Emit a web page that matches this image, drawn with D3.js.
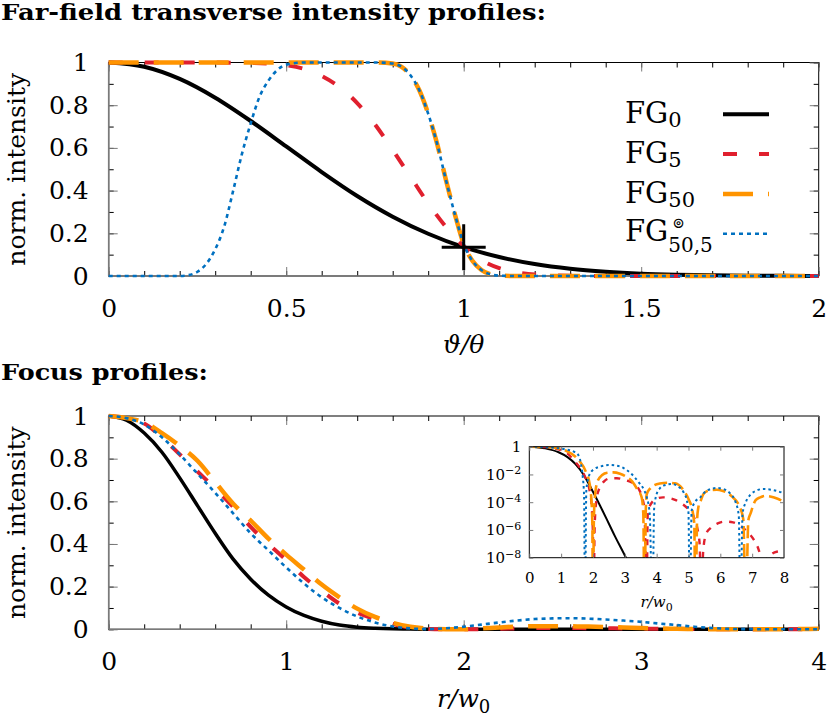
<!DOCTYPE html>
<html>
<head>
<meta charset="utf-8">
<script src="https://cdn.jsdelivr.net/npm/d3@7"></script>
<style>
  body { margin: 0; background: #fff; }
  svg text { font-family: "DejaVu Serif", serif; fill: #000; }
</style>
</head>
<body>
<div class="viz"></div>
<script>
/* values */

// far field, [theta / theta0, normalised intensity]
const farFG0 = [[0,1],[0.1,0.98],[0.2,0.923],[0.3,0.835],[0.4,0.726],[0.5,0.607],[0.6,0.487],[0.7,0.375],
  [0.8,0.278],[0.9,0.198],[1.0,0.135],[1.1,0.089],[1.2,0.056],[1.3,0.034],[1.4,0.02],[1.5,0.011],
  [1.6,0.006],[1.7,0.003],[1.8,0.0015],[1.9,0.0007],[2.0,0.0003]];
const farFG5 = [[0,1],[0.2,1],[0.4,0.998],[0.45,0.995],[0.5,0.987],[0.55,0.97],[0.6,0.937],[0.65,0.885],
  [0.7,0.81],[0.75,0.71],[0.8,0.59],[0.85,0.465],[0.9,0.34],[0.95,0.23],[1.0,0.14],[1.05,0.075],
  [1.1,0.037],[1.15,0.017],[1.2,0.007],[1.3,0.001],[1.4,0],[2.0,0]];
const farFG50 = [[0,1],[0.75,1],[0.8,0.995],[0.825,0.98],[0.85,0.94],[0.875,0.87],[0.9,0.76],[0.925,0.62],
  [0.95,0.45],[0.975,0.29],[1.0,0.15],[1.025,0.07],[1.05,0.028],[1.075,0.008],[1.1,0.002],[1.15,0],[2.0,0]];
const farFG505 = [[0,0],[0.2,0],[0.225,0.004],[0.25,0.02],[0.275,0.057],[0.3,0.125],[0.325,0.23],[0.35,0.395],
  [0.375,0.57],[0.4,0.715],[0.425,0.84],[0.45,0.915],[0.475,0.965],[0.5,0.99],[0.55,1],[0.75,1],
  [0.8,0.995],[0.825,0.98],[0.85,0.94],[0.875,0.87],[0.9,0.76],[0.925,0.62],[0.95,0.45],[0.975,0.29],
  [1.0,0.15],[1.025,0.07],[1.05,0.028],[1.075,0.008],[1.1,0.002],[1.15,0],[2.0,0]];
const crossPoint = [1.0, 0.135];

// focus, sampled at r / w0
const focusR = [0,0.1,0.2,0.3,0.4,0.5,0.6,0.7,0.8,0.9,1.0,1.1,1.2,1.3,1.4,1.5,1.6,1.7,1.8,1.9,2.0,
  2.1,2.2,2.3,2.4,2.5,2.6,2.7,2.8,2.9,3.0,3.1,3.2,3.3,3.4,3.5,3.6,3.7,3.8,3.9,4.0];
const focusFG0 = [1,0.98,0.92,0.83,0.71,0.58,0.45,0.33,0.235,0.16,0.105,0.065,0.038,0.02,0.01,0.005,0.0022,0.001,
  0.0004,0,0,0,0,0,0,0,0,0,0,0,0,0,0,0,0,0,0,0,0,0,0];
const focusFG5 = [1,0.99,0.965,0.9,0.82,0.74,0.66,0.575,0.48,0.4,0.325,0.245,0.18,0.12,0.078,0.048,0.025,0.008,
  0.002,0.0003,0,0.001,0.003,0.0045,0.0055,0.0058,0.0057,0.0053,0.0047,0.004,0.0035,0.0028,0.0022,0.0015,
  0.0008,0.0003,0.0001,0,0.0001,0.0002,0.0002];
const focusFG50 = [1,0.99,0.97,0.92,0.86,0.79,0.69,0.59,0.51,0.425,0.35,0.28,0.21,0.15,0.097,0.058,0.03,0.012,
  0.003,0.0003,0,0.004,0.009,0.013,0.014,0.0145,0.014,0.013,0.011,0.0085,0.006,0.004,0.0025,0.0012,
  0.0004,0.0001,0,0.0003,0.0008,0.0015,0.002];
const focusFG505 = [1,0.99,0.96,0.9,0.82,0.73,0.64,0.545,0.45,0.37,0.29,0.215,0.15,0.1,0.06,0.032,0.013,0.004,
  0.0008,0.005,0.012,0.022,0.032,0.041,0.048,0.051,0.052,0.05,0.046,0.041,0.035,0.027,0.02,0.012,
  0.006,0.002,0.0005,0.0001,0,0.0002,0.0005];

// inset, [r / w0, log10 intensity]  (nulls given as -12, clipped away)
const logFG0 = [[0,0],[0.5,-0.12],[0.92,-0.4],[1.2,-0.75],[1.45,-1.25],[1.7,-2.0],[1.86,-2.64],[2.0,-3.25],
  [2.29,-4.56],[2.5,-5.55],[2.7,-6.5],[3.02,-7.93],[3.2,-8.8]];
const logFG5 = [[0,0],[0.5,-0.03],[0.8,-0.12],[1.0,-0.25],[1.2,-0.5],[1.44,-1.08],[1.6,-1.55],[1.75,-2.16],
  [1.88,-3.0],[1.96,-4.3],[2.0,-6.5],[2.02,-12],[2.05,-6.0],[2.1,-4.0],[2.2,-3.0],[2.35,-2.5],[2.54,-2.28],
  [2.75,-2.27],[3.0,-2.4],[3.27,-2.64],[3.45,-3.1],[3.55,-3.7],[3.62,-4.6],[3.68,-12],[3.72,-4.9],[3.8,-4.2],
  [4.0,-3.75],[4.2,-3.65],[4.4,-3.7],[4.6,-3.85],[4.85,-4.2],[5.0,-4.5],[5.1,-4.75],[5.2,-5.25],[5.28,-5.9],
  [5.35,-7.0],[5.4,-12],[5.46,-7.6],[5.55,-6.3],[5.7,-5.85],[5.9,-5.55],[6.15,-5.4],[6.4,-5.45],[6.65,-5.75],
  [6.9,-6.25],[7.05,-6.7],[7.2,-7.4],[7.3,-8.3],[7.35,-12],[7.42,-8.3],[7.6,-7.75],[7.8,-7.55],[8.0,-7.5]];
const logFG50 = [[0,0],[0.5,-0.02],[0.92,-0.12],[1.2,-0.35],[1.45,-0.72],[1.6,-1.1],[1.7,-1.44],[1.8,-1.95],
  [1.87,-2.4],[1.94,-3.5],[1.98,-5.5],[2.0,-12],[2.03,-5.0],[2.08,-3.2],[2.15,-2.45],[2.29,-2.04],[2.45,-1.88],
  [2.64,-1.85],[2.85,-1.95],[3.0,-2.1],[3.23,-2.5],[3.4,-3.1],[3.53,-3.65],[3.58,-4.8],[3.62,-12],[3.66,-4.5],
  [3.69,-3.41],[3.8,-3.0],[3.9,-2.81],[4.1,-2.65],[4.35,-2.6],[4.58,-2.64],[4.8,-3.0],[5.0,-3.77],[5.1,-4.37],
  [5.18,-5.5],[5.22,-12],[5.27,-5.3],[5.31,-4.37],[5.4,-3.8],[5.47,-3.41],[5.65,-3.15],[5.89,-3.1],[6.06,-3.17],
  [6.37,-3.6],[6.6,-4.3],[6.72,-5.2],[6.8,-12],[6.88,-5.3],[6.95,-4.8],[7.11,-3.85],[7.25,-3.65],[7.42,-3.55],
  [7.6,-3.6],[7.8,-3.75],[8.0,-3.97]];
const logFG505 = [[0,0],[0.5,-0.03],[0.92,-0.12],[1.2,-0.22],[1.4,-0.36],[1.54,-0.6],[1.62,-1.2],[1.68,-2.2],
  [1.72,-3.5],[1.75,-12],[1.79,-3.2],[1.85,-2.3],[1.91,-1.92],[2.05,-1.6],[2.25,-1.42],[2.48,-1.32],[2.7,-1.35],
  [2.96,-1.54],[3.2,-1.95],[3.45,-2.6],[3.6,-3.1],[3.69,-3.65],[3.78,-4.8],[3.87,-12],[3.92,-4.5],[4.0,-3.41],
  [4.1,-3.0],[4.21,-2.81],[4.48,-2.69],[4.7,-2.9],[4.85,-3.3],[4.95,-3.89],[5.0,-4.8],[5.04,-12],[5.1,-4.6],
  [5.2,-4.0],[5.37,-3.65],[5.55,-3.2],[5.89,-2.98],[6.1,-3.05],[6.3,-3.35],[6.48,-4.0],[6.58,-5.0],[6.63,-12],
  [6.7,-4.8],[6.8,-4.0],[6.95,-3.45],[7.15,-3.15],[7.35,-3.05],[7.6,-3.1],[7.8,-3.2],[8.0,-3.37]];

// tick labels
const farXTicks = [0, 0.5, 1, 1.5, 2];
const focusXTicks = [0, 1, 2, 3, 4];
const yTicks = [0, 0.2, 0.4, 0.6, 0.8, 1];
const insetXTicks = [0, 1, 2, 3, 4, 5, 6, 7, 8];
const insetYTicks = [1, 1e-2, 1e-4, 1e-6, 1e-8];
const legendSub = ["0", "5", "50", "50,5"];

/* styles */
const colors = ["#000000", "#e0202e", "#ff9400", "#0070c0"];
const widths = [4, 4, 4.5, 2.6];
const dashes = [null, "14,22", "30,15", "4,4"];
const insetWidths = [2, 2.4, 2.6, 2];
const insetDashes = [null, "6,7", "13,5", "2.5,3"];

var fmt = d3.format("~g");

var svg = d3.select(".viz").append("svg")
  .attr("width", 830)
  .attr("height", 719);

/* draw a boxed frame with ticks on all four sides */
function frame(x, y, xMinor, xMajor, yMinor, yMajor, fontSize, pad) {
  var [x0, x1] = x.range();
  var [yb, yt] = y.range();
  var g = svg.append("g");

  g.append("rect")
    .attr("x", x0).attr("y", yt)
    .attr("width", x1 - x0).attr("height", yb - yt)
    .attr("fill", "none").attr("stroke", "#000").attr("stroke-width", 1);

  function ticks(axis, tr, vals, size, col) {
    var a = g.append("g").attr("transform", tr)
      .call(axis.tickValues(vals).tickSizeInner(-size).tickSizeOuter(0).tickFormat(""));
    a.select(".domain").remove();
    a.attr("color", col);
  }
  ticks(d3.axisBottom(x), "translate(0," + yb + ")", xMinor, 5, "#000");
  ticks(d3.axisTop(x), "translate(0," + yt + ")", xMinor, 5, "#000");
  ticks(d3.axisLeft(y), "translate(" + x0 + ",0)", yMinor, 5, "#000");
  ticks(d3.axisRight(y), "translate(" + x1 + ",0)", yMinor, 5, "#000");
  ticks(d3.axisTop(x), "translate(0," + yt + ")", xMajor, 9, "#7a7a7a");
  ticks(d3.axisRight(y), "translate(" + x1 + ",0)", yMajor, 9, "#7a7a7a");

  // zero axes in grey
  g.append("line").attr("x1", x0).attr("x2", x1).attr("y1", yb).attr("y2", yb)
    .attr("stroke", "#7a7a7a").attr("stroke-width", 1.6);
  g.append("line").attr("x1", x0).attr("x2", x0).attr("y1", yt).attr("y2", yb)
    .attr("stroke", "#7a7a7a").attr("stroke-width", 1.6);

  var xa = g.append("g").attr("transform", "translate(0," + yb + ")")
    .call(d3.axisBottom(x).tickValues(xMajor).tickSizeInner(-9).tickSizeOuter(0)
      .tickPadding(pad[0]).tickFormat(fmt));
  xa.select(".domain").remove();
  xa.attr("color", "#7a7a7a").attr("font-family", null).attr("font-size", fontSize);
  xa.selectAll("text").attr("fill", "#000");

  var ya = g.append("g").attr("transform", "translate(" + x0 + ",0)")
    .call(d3.axisLeft(y).tickValues(yMajor).tickSizeInner(-9).tickSizeOuter(0)
      .tickPadding(pad[1]).tickFormat(fmt));
  ya.select(".domain").remove();
  ya.attr("color", "#7a7a7a").attr("font-family", null).attr("font-size", fontSize);
  ya.selectAll("text").attr("fill", "#000");
  return g;
}

/* ---------- titles ---------- */
svg.append("text").attr("x", 1).attr("y", 20)
  .attr("font-weight", "bold").attr("font-size", 22)
  .attr("textLength", 545).attr("lengthAdjust", "spacingAndGlyphs")
  .text("Far-field transverse intensity profiles:");
svg.append("text").attr("x", 1).attr("y", 380)
  .attr("font-weight", "bold").attr("font-size", 22)
  .attr("textLength", 207).attr("lengthAdjust", "spacingAndGlyphs")
  .text("Focus profiles:");

/* ---------- top panel ---------- */
var xFar = d3.scaleLinear().domain([0, 2]).range([108.7, 818.7]);
var yFar = d3.scaleLinear().domain([0, 1]).range([276, 62.5]);

frame(xFar, yFar, d3.range(0, 2.001, 0.1), farXTicks, d3.range(0, 1.001, 0.1), yTicks, 25, [23, 20]);

svg.append("text")
  .attr("transform", "translate(25," + ((276 + 62.5) / 2) + ") rotate(-90)")
  .attr("text-anchor", "middle").attr("font-size", 25)
  .text("norm. intensity");
svg.append("text").attr("x", xFar(1)).attr("y", 353)
  .attr("text-anchor", "middle").attr("font-size", 25).attr("font-style", "italic")
  .text("ϑ/θ");

var farLine = d3.line().x(d => xFar(d[0])).y(d => yFar(d[1])).curve(d3.curveMonotoneX);
[farFG0, farFG5, farFG50, farFG505].forEach(function (s, i) {
  svg.append("path").datum(s)
    .attr("d", farLine)
    .attr("fill", "none")
    .attr("stroke", colors[i])
    .attr("stroke-width", widths[i])
    .attr("stroke-dasharray", dashes[i]);
});

// cross marker
svg.append("path")
  .attr("d", "M" + (xFar(crossPoint[0]) - 22) + "," + yFar(crossPoint[1]) + "h44" +
             "M" + xFar(crossPoint[0]) + "," + (yFar(crossPoint[1]) - 23) + "v46")
  .attr("stroke", "#000").attr("stroke-width", 3).attr("fill", "none");

// legend
var legend = svg.append("g").attr("id", "legend");
var legendY = [114.3, 154, 194, 233.7];
legendSub.forEach(function (sub, i) {
  var t = legend.append("text").attr("x", 625).attr("font-size", 29);
  if (i < 3) {
    t.attr("y", legendY[i] + 9).text("FG");
    t.append("tspan").attr("dy", 4).attr("font-size", 21).text(sub);
  } else {
    // FG with ring superscript and stacked subscript, kept in one text
    t.attr("y", legendY[i] + 7).text("FG");
    var w = t.node().getComputedTextLength();
    t.append("tspan").attr("dx", 4).attr("dy", -12.5).attr("font-size", 15).text("⊚");
    t.append("tspan").attr("x", 625 + w).attr("dy", 23.3).attr("font-size", 20).text(sub);
  }
  legend.append("line")
    .attr("x1", 723).attr("x2", 769)
    .attr("y1", legendY[i]).attr("y2", legendY[i])
    .attr("stroke", colors[i]).attr("stroke-width", widths[i])
    .attr("stroke-dasharray", dashes[i]);
});

/* ---------- bottom panel ---------- */
var xFoc = d3.scaleLinear().domain([0, 4]).range([108.7, 818.7]);
var yFoc = d3.scaleLinear().domain([0, 1]).range([629.3, 416]);

frame(xFoc, yFoc, d3.range(0, 4.001, 0.2), focusXTicks, d3.range(0, 1.001, 0.1), yTicks, 25, [23, 20]);

svg.append("text")
  .attr("transform", "translate(25," + ((629.3 + 416) / 2) + ") rotate(-90)")
  .attr("text-anchor", "middle").attr("font-size", 25)
  .text("norm. intensity");
var rl = svg.append("text").attr("x", xFoc(2)).attr("y", 707)
  .attr("text-anchor", "middle").attr("font-size", 25);
rl.append("tspan").attr("font-style", "italic").text("r/w");
rl.append("tspan").attr("dy", 6).attr("font-size", 18).text("0");

var focLine = d3.line().x((d, i) => xFoc(focusR[i])).y(d => yFoc(d)).curve(d3.curveMonotoneX);
[focusFG0, focusFG5, focusFG50, focusFG505].forEach(function (s, i) {
  svg.append("path").datum(s)
    .attr("d", focLine)
    .attr("fill", "none")
    .attr("stroke", colors[i])
    .attr("stroke-width", i === 0 ? 3.5 : widths[i])
    .attr("stroke-dasharray", dashes[i]);
});

/* ---------- inset (log scale) ---------- */
var xIn = d3.scaleLinear().domain([0, 8]).range([529.3, 784]);
var yIn = d3.scaleLog().domain([1e-8, 1]).range([557.7, 446.7]);

svg.append("rect").attr("x", 529.3).attr("y", 446.7)
  .attr("width", 784 - 529.3).attr("height", 557.7 - 446.7).attr("fill", "#fff");

svg.append("clipPath").attr("id", "clip-inset")
  .append("rect").attr("x", 529.3).attr("y", 446.7)
  .attr("width", 784 - 529.3).attr("height", 557.7 - 446.7);

var inLine = d3.line().x(d => xIn(d[0])).y(d => yIn(Math.pow(10, d[1]))).curve(d3.curveMonotoneX);
var inset = svg.append("g").attr("clip-path", "url(#clip-inset)");
[logFG0, logFG5, logFG50, logFG505].forEach(function (s, i) {
  inset.append("path").datum(s)
    .attr("d", inLine)
    .attr("fill", "none")
    .attr("stroke", colors[i])
    .attr("stroke-width", insetWidths[i])
    .attr("stroke-dasharray", insetDashes[i]);
});

var ig = svg.append("g");
ig.append("rect").attr("x", 529.3).attr("y", 446.7)
  .attr("width", 784 - 529.3).attr("height", 557.7 - 446.7)
  .attr("fill", "none").attr("stroke", "#000").attr("stroke-width", 1);

function inTicks(axis, tr, vals) {
  var a = ig.append("g").attr("transform", tr)
    .call(axis.tickValues(vals).tickSizeInner(-4).tickSizeOuter(0).tickFormat(""));
  a.select(".domain").remove();
  a.attr("color", "#7a7a7a");
}
inTicks(d3.axisTop(xIn), "translate(0,446.7)", insetXTicks);
inTicks(d3.axisRight(yIn), "translate(784,0)", insetYTicks);

var ixa = ig.append("g").attr("transform", "translate(0,557.7)")
  .call(d3.axisBottom(xIn).tickValues(insetXTicks).tickSizeInner(-4).tickSizeOuter(0).tickPadding(15));
ixa.select(".domain").remove();
ixa.attr("color", "#7a7a7a").attr("font-family", null).attr("font-size", 15);
ixa.selectAll("text").attr("fill", "#000");

var iya = ig.append("g").attr("transform", "translate(529.3,0)")
  .call(d3.axisLeft(yIn).tickValues(insetYTicks).tickSizeInner(-4).tickSizeOuter(0).tickPadding(8)
    .tickFormat(d => d === 1 ? "1" : "10"));
iya.select(".domain").remove();
iya.attr("color", "#7a7a7a").attr("font-family", null).attr("font-size", 15);
iya.selectAll("text").attr("fill", "#000").each(function (d) {
  if (d !== 1) {
    d3.select(this).append("tspan")
      .attr("dy", "-0.5em").attr("font-size", 11)
      .text("\u2212" + Math.round(-Math.log10(d)));
  }
});

var irl = svg.append("text").attr("x", xIn(4)).attr("y", 606.5)
  .attr("text-anchor", "middle").attr("font-size", 15);
irl.append("tspan").attr("font-style", "italic").text("r/w");
irl.append("tspan").attr("dy", 4).attr("font-size", 11).text("0");
</script>
</body>
</html>
